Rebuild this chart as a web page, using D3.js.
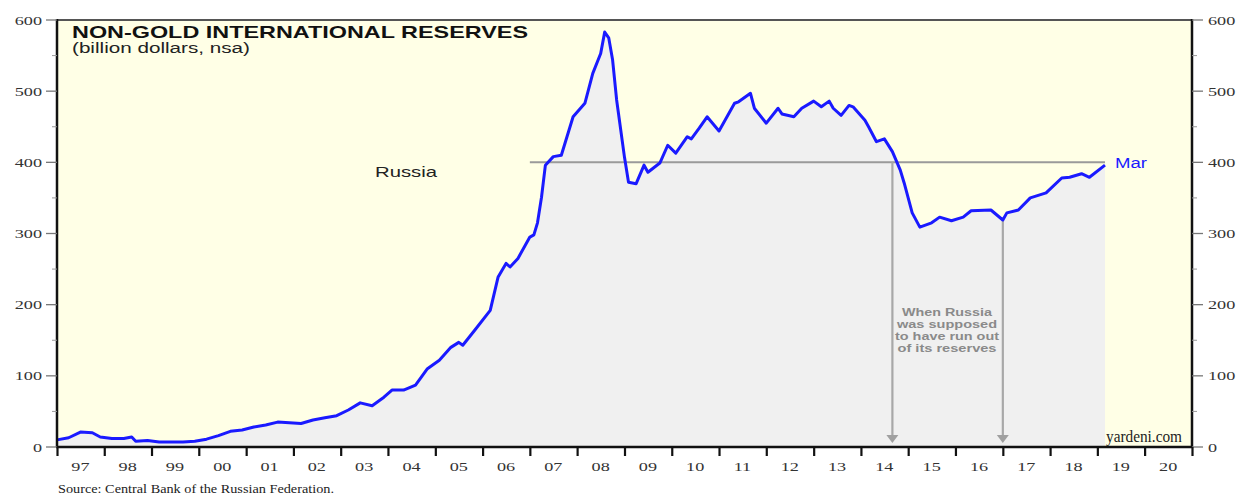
<!DOCTYPE html>
<html><head><meta charset="utf-8">
<script src="https://cdn.jsdelivr.net/npm/d3@7"></script>
<style>html,body{margin:0;padding:0;background:#fff;}svg{display:block;}</style>
</head><body><svg id="c" width="1242" height="496"></svg>
<script>
// ---- data ----
const dates = ["1997-01","1997-04","1997-07","1997-10","1997-12","1998-03","1998-06","1998-08","1998-09","1998-12",
"1999-03","1999-06","1999-09","1999-12","2000-03","2000-06","2000-09","2000-12","2001-03","2001-06",
"2001-09","2001-12","2002-03","2002-06","2002-09","2002-12","2003-03","2003-06","2003-09","2003-12",
"2004-02","2004-05","2004-08","2004-11","2005-02","2005-05","2005-07","2005-08","2005-11","2006-03",
"2006-05","2006-07","2006-08","2006-10","2007-01","2007-02","2007-03","2007-04","2007-05","2007-07",
"2007-09","2007-12","2008-03","2008-05","2008-07","2008-08","2008-09","2008-10","2008-11","2009-01",
"2009-02","2009-04","2009-06","2009-07","2009-10","2009-12","2010-02","2010-05","2010-06","2010-08",
"2010-10","2011-01","2011-05","2011-06","2011-09","2011-10","2012-01","2012-04","2012-05","2012-08",
"2012-10","2013-01","2013-03","2013-05","2013-06","2013-08","2013-10","2013-11","2014-02","2014-03",
"2014-05","2014-07","2014-09","2014-11","2014-12","2015-02","2015-04","2015-07","2015-09","2015-12",
"2016-03","2016-05","2016-10","2017-01","2017-02","2017-05","2017-08","2017-12","2018-04","2018-06",
"2018-09","2018-11","2019-03"];
const reserves = [10,13,21,20,14,12,12,14,8,9,
7,7,7,8,11,16,22,24,28,31,
35,34,33,38,41,44,52,62,58,70,
80,80,87,110,122,140,147,143,164,192,
239,258,253,265,295,298,315,351,396,408,
410,464,483,525,553,583,575,544,488,407,
372,370,396,386,399,424,413,436,433,448,
464,444,483,485,497,476,455,476,468,464,
476,486,478,486,476,466,480,478,459,450,
429,433,415,389,371,329,309,315,323,318,
323,332,333,319,329,333,350,357,378,379,
384,379,396];
const yearLabels = ["97","98","99","00","01","02","03","04","05","06","07","08","09","10","11","12","13","14","15","16","17","18","19","20"];
const yTicks = [0,100,200,300,400,500,600];
const yMinor = [50,150,250,350,450,550];
const refLevel = 400, refStart = "2007-01", refEnd = "2019-03";
const arrowDates = ["2014-09","2017-01"];
const noteLines = ["When Russia","was supposed","to have run out","of its reserves"];

// ---- layout ----
const svg = d3.select("#c");
const L = 57, R = 1192, T = 20, B = 447;
const parse = d3.timeParse("%Y-%m");
const x = d3.scaleTime().domain([new Date(1997,0,1), new Date(2021,0,1)]).range([L,R]);
const y = d3.scaleLinear().domain([0,600]).range([B,T]);
const data = dates.map((d,i)=>({date:parse(d), v:reserves[i]}));
const SERIF = "'Liberation Serif','Times New Roman',serif";
const SANS = "'Liberation Sans',Arial,sans-serif";
const SX = 1.4;

svg.append("rect").attr("x",L).attr("y",T).attr("width",R-L).attr("height",B-T).attr("fill","#FFFFE6");

// area under curve
svg.append("path").datum(data)
  .attr("d", d3.area().x(d=>x(d.date)).y0(y(0)).y1(d=>y(d.v)))
  .attr("fill","#F0F0F0");

// reference line at 400
svg.append("line").attr("x1",x(parse(refStart))).attr("x2",x(parse(refEnd)))
  .attr("y1",y(refLevel)).attr("y2",y(refLevel)).attr("stroke","#9a9a9a").attr("stroke-width",2);

// arrows
const valAt = dt => {
  const t = dt.getTime();
  for (let i=1;i<data.length;i++){
    const a=data[i-1], b=data[i];
    if (t<=b.date.getTime()){
      const f=(t-a.date.getTime())/(b.date.getTime()-a.date.getTime());
      return a.v+(b.v-a.v)*f;
    }
  }
  return data[data.length-1].v;
};
arrowDates.forEach((ad,i)=>{
  const dt = parse(ad), ax = x(dt);
  const topV = i===0 ? refLevel : valAt(dt);
  svg.append("line").attr("x1",ax).attr("x2",ax).attr("y1",y(topV)).attr("y2",B-10)
    .attr("stroke","#a8a8a8").attr("stroke-width",2.2);
  svg.append("path").attr("d",`M${ax-6},${B-12}L${ax+6},${B-12}L${ax},${B-4}Z`).attr("fill","#a0a0a0");
});

// note text
const noteWidths = [90,100,104,99];
noteLines.forEach((t,i)=>{
  svg.append("text").attr("x",947).attr("y",316+i*12).attr("text-anchor","middle")
    .attr("font-family",SANS).attr("font-weight","bold").attr("font-size",11)
    .attr("textLength",noteWidths[i]).attr("lengthAdjust","spacingAndGlyphs")
    .attr("fill","#8a8a8a").text(t);
});

// line
svg.append("path").datum(data)
  .attr("d", d3.line().x(d=>x(d.date)).y(d=>y(d.v)))
  .attr("fill","none").attr("stroke","#1a1aff").attr("stroke-width",3).attr("stroke-linejoin","round");

// frame
svg.append("line").attr("x1",L).attr("x2",R).attr("y1",T).attr("y2",T).attr("stroke","#555").attr("stroke-width",1.8);
svg.append("line").attr("x1",L).attr("x2",L).attr("y1",T-1).attr("y2",B).attr("stroke","#111").attr("stroke-width",2.5);
svg.append("line").attr("x1",R).attr("x2",R).attr("y1",T-1).attr("y2",B).attr("stroke","#111").attr("stroke-width",2.5);
svg.append("line").attr("x1",L-1).attr("x2",R+1).attr("y1",B).attr("y2",B).attr("stroke","#111").attr("stroke-width",2.5);

// y ticks both sides
const g = svg.append("g");
yTicks.forEach(v=>{
  g.append("line").attr("x1",L-11).attr("x2",L).attr("y1",y(v)).attr("y2",y(v)).attr("stroke","#777").attr("stroke-width",1.3);
  g.append("line").attr("x1",R).attr("x2",R+11).attr("y1",y(v)).attr("y2",y(v)).attr("stroke","#777").attr("stroke-width",1.3);
  g.append("text").attr("transform",`translate(${L-15},${y(v)+4.5}) scale(${SX},1)`).attr("text-anchor","end")
    .attr("font-family",SERIF).attr("font-size",13).attr("fill","#333").text(v);
  g.append("text").attr("transform",`translate(${R+16},${y(v)+4.5}) scale(${SX},1)`).attr("text-anchor","start")
    .attr("font-family",SERIF).attr("font-size",13).attr("fill","#333").text(v);
});
yMinor.forEach(v=>{
  g.append("line").attr("x1",L-5).attr("x2",L).attr("y1",y(v)).attr("y2",y(v)).attr("stroke","#999").attr("stroke-width",1);
  g.append("line").attr("x1",R).attr("x2",R+5).attr("y1",y(v)).attr("y2",y(v)).attr("stroke","#999").attr("stroke-width",1);
});

// x ticks and labels
const xAxis = d3.axisBottom(x).ticks(d3.timeYear.every(1)).tickSize(9).tickFormat("");
const xa = svg.append("g").attr("transform",`translate(0,${B})`).call(xAxis);
xa.select(".domain").remove();
xa.selectAll(".tick line").attr("stroke","#111").attr("stroke-width",2.2);
yearLabels.forEach((lab,i)=>{
  const mid = x(new Date(1997+i,6,1));
  svg.append("text").attr("transform",`translate(${mid},${B+24}) scale(${SX},1)`).attr("text-anchor","middle")
    .attr("font-family",SERIF).attr("font-size",13).attr("fill","#333").text(lab);
});

// titles
svg.append("text").attr("x",72).attr("y",38).attr("font-family",SANS).attr("font-weight","bold")
  .attr("font-size",17).attr("fill","#111").attr("textLength",456).attr("lengthAdjust","spacingAndGlyphs")
  .text("NON-GOLD INTERNATIONAL RESERVES");
svg.append("text").attr("x",72).attr("y",53).attr("font-family",SANS)
  .attr("font-size",14).attr("fill","#222").attr("textLength",178).attr("lengthAdjust","spacingAndGlyphs")
  .text("(billion dollars, nsa)");
svg.append("text").attr("x",375).attr("y",177).attr("font-family",SANS)
  .attr("font-size",15).attr("fill","#222").attr("textLength",62).attr("lengthAdjust","spacingAndGlyphs")
  .text("Russia");
svg.append("text").attr("x",1115).attr("y",168).attr("font-family",SANS)
  .attr("font-size",14).attr("fill","#1a1aff").attr("textLength",32).attr("lengthAdjust","spacingAndGlyphs")
  .text("Mar");
svg.append("text").attr("x",1182).attr("y",442).attr("text-anchor","end").attr("font-family",SERIF)
  .attr("font-size",16).attr("fill","#222").attr("textLength",76).attr("lengthAdjust","spacingAndGlyphs")
  .text("yardeni.com");
svg.append("text").attr("x",58).attr("y",493).attr("font-family",SERIF)
  .attr("font-size",12).attr("fill","#222").attr("textLength",276).attr("lengthAdjust","spacingAndGlyphs")
  .text("Source: Central Bank of the Russian Federation.");
</script></body></html>
